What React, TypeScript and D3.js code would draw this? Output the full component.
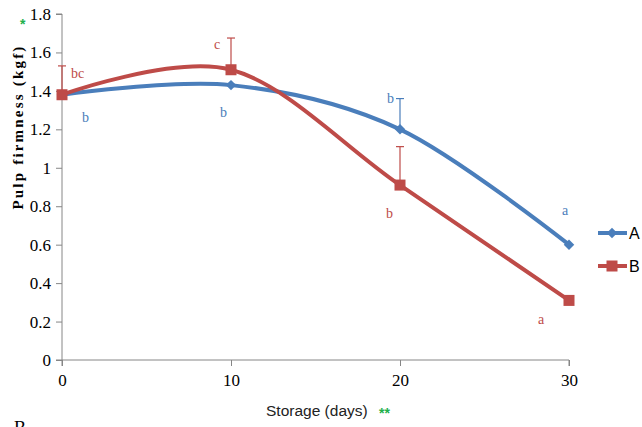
import React, { useEffect, useRef } from "react";
import * as d3 from "d3";

// storage days on the x axis
const days = [0, 10, 20, 30];
// pulp firmness (kgf) per treatment
const seriesA = [1.38, 1.43, 1.2, 0.6];
const seriesB = [1.38, 1.51, 0.91, 0.31];
// upper error bar values (null = none drawn)
const errA = [null, null, 0.16, null];
const errB = [0.15, 0.165, 0.2, null];
// significance letters
const lettersA = ["b", "b", "b", "a"];
const lettersB = ["bc", "c", "b", "a"];
const yTicks = [0, 0.2, 0.4, 0.6, 0.8, 1, 1.2, 1.4, 1.6, 1.8];
const xTicks = [0, 10, 20, 30];

const blue = "#4A7EBB";
const red = "#BE4B48";
const axisGray = "#868686";
const green = "#22B04B";
const serif = "'Liberation Serif', 'Times New Roman', serif";
const sans = "'Liberation Sans', Arial, sans-serif";

export default function App() {
  const ref = useRef<SVGSVGElement>(null);

  useEffect(() => {
    const svg = d3.select(ref.current);
    svg.selectAll("*").remove();

    const x = d3.scaleLinear().domain([0, 30]).range([62, 569]);
    const y = d3.scaleLinear().domain([0, 1.8]).range([360, 14]);

    // axes
    const yAxis = svg.append("g").attr("transform", "translate(62,0)")
      .attr("font-family", serif)
      .call(d3.axisLeft(y).tickValues(yTicks).tickSize(6).tickFormat(d => String(d)));
    yAxis.select(".domain").attr("stroke", axisGray).attr("d", `M-6,${y(0)}H0V${y(1.8)}H-6`);
    yAxis.selectAll(".tick line").attr("stroke", axisGray);
    yAxis.selectAll(".tick text")
      .attr("x", -11)
      .attr("font-family", serif).attr("font-size", 17).attr("fill", "#000");

    const xAxis = svg.append("g").attr("transform", `translate(0,${y(0)})`)
      .attr("font-family", serif)
      .call(d3.axisBottom(x).tickValues(xTicks).tickSize(6).tickFormat(d => String(d)));
    xAxis.select(".domain").attr("stroke", axisGray).attr("d", `M${x(0)},6V0H${x(30)}V6`);
    xAxis.selectAll(".tick line").attr("stroke", axisGray);
    xAxis.selectAll(".tick text")
      .attr("y", 14)
      .attr("font-family", serif).attr("font-size", 17).attr("fill", "#000");

    // titles
    svg.append("text")
      .attr("transform", "translate(23,127) rotate(-90)")
      .attr("text-anchor", "middle")
      .attr("font-family", serif)
      .attr("font-weight", "bold").attr("font-size", 15)
      .style("letter-spacing", "2.2px")
      .text("Pulp firmness (kgf)");
    svg.append("text").attr("x", 20).attr("y", 29)
      .attr("fill", green).attr("font-size", 14).attr("font-weight", "bold")
      .attr("font-family", sans).text("*");

    svg.append("text").attr("x", 266).attr("y", 416)
      .attr("font-family", sans).attr("font-size", 15.5).attr("fill", "#222").text("Storage (days)");
    svg.append("text").attr("x", 379).attr("y", 418)
      .attr("font-family", sans).attr("font-size", 14).attr("font-weight", "bold")
      .attr("fill", green).text("**");
    svg.append("text").attr("x", 14).attr("y", 434)
      .attr("font-family", serif).attr("font-size", 18).text("B");

    const line = d3.line<number>()
      .x((d, i) => x(days[i]))
      .y(d => y(d))
      .curve(d3.curveCardinal.tension(0));

    const drawSeries = (vals: number[], errs: (number | null)[], color: string) => {
      // error bars
      vals.forEach((v, i) => {
        const e = errs[i];
        if (e == null) return;
        const cx = x(days[i]);
        svg.append("line").attr("x1", cx).attr("x2", cx)
          .attr("y1", y(v)).attr("y2", y(v + e)).attr("stroke", color).attr("stroke-width", 1.2);
        svg.append("line").attr("x1", cx - 4).attr("x2", cx + 4)
          .attr("y1", y(v + e)).attr("y2", y(v + e)).attr("stroke", color).attr("stroke-width", 1.2);
      });
      svg.append("path").datum(vals).attr("d", line)
        .attr("fill", "none").attr("stroke", color).attr("stroke-width", 4)
        .attr("stroke-linecap", "round");
    };

    drawSeries(seriesA, errA, blue);
    drawSeries(seriesB, errB, red);

    // markers
    svg.selectAll(".mA").data(seriesA).join("path")
      .attr("transform", (d, i) => `translate(${x(days[i])},${y(d)})`)
      .attr("d", d3.symbol(d3.symbolDiamond2, 70)).attr("fill", blue);
    svg.selectAll(".mB").data(seriesB).join("rect")
      .attr("x", (d, i) => x(days[i]) - 5.5).attr("y", d => y(d) - 5.5)
      .attr("width", 11).attr("height", 11).attr("fill", red);

    // letters
    const offA = [[20, 27], [-11, 32], [-13, -26], [-7, -30]];
    const offB = [[9, -17], [-17, -21], [-14, 33], [-31, 24]];
    lettersA.forEach((t, i) => {
      svg.append("text").attr("x", x(days[i]) + offA[i][0]).attr("y", y(seriesA[i]) + offA[i][1])
        .attr("fill", blue).attr("font-family", serif).attr("font-size", 14).text(t);
    });
    lettersB.forEach((t, i) => {
      svg.append("text").attr("x", x(days[i]) + offB[i][0]).attr("y", y(seriesB[i]) + offB[i][1])
        .attr("fill", red).attr("font-family", serif).attr("font-size", 14).text(t);
    });

    // legend
    const legend = [["A", blue, 233], ["B", red, 266]] as const;
    legend.forEach(([name, color, ly], k) => {
      svg.append("line").attr("x1", 598).attr("x2", 627).attr("y1", ly).attr("y2", ly)
        .attr("stroke", color).attr("stroke-width", 4);
      if (k === 0) {
        svg.append("path").attr("transform", `translate(612,${ly})`)
          .attr("d", d3.symbol(d3.symbolDiamond2, 70)).attr("fill", color);
      } else {
        svg.append("rect").attr("x", 606.5).attr("y", ly - 5.5).attr("width", 11).attr("height", 11).attr("fill", color);
      }
      svg.append("text").attr("x", 629).attr("y", ly + 6)
        .attr("font-family", sans).attr("font-size", 16).text(name);
    });
  }, []);

  return (
    <svg ref={ref} width={642} height={427}
      style={{ position: "absolute", left: 0, top: 0, background: "#fff" }} />
  );
}
